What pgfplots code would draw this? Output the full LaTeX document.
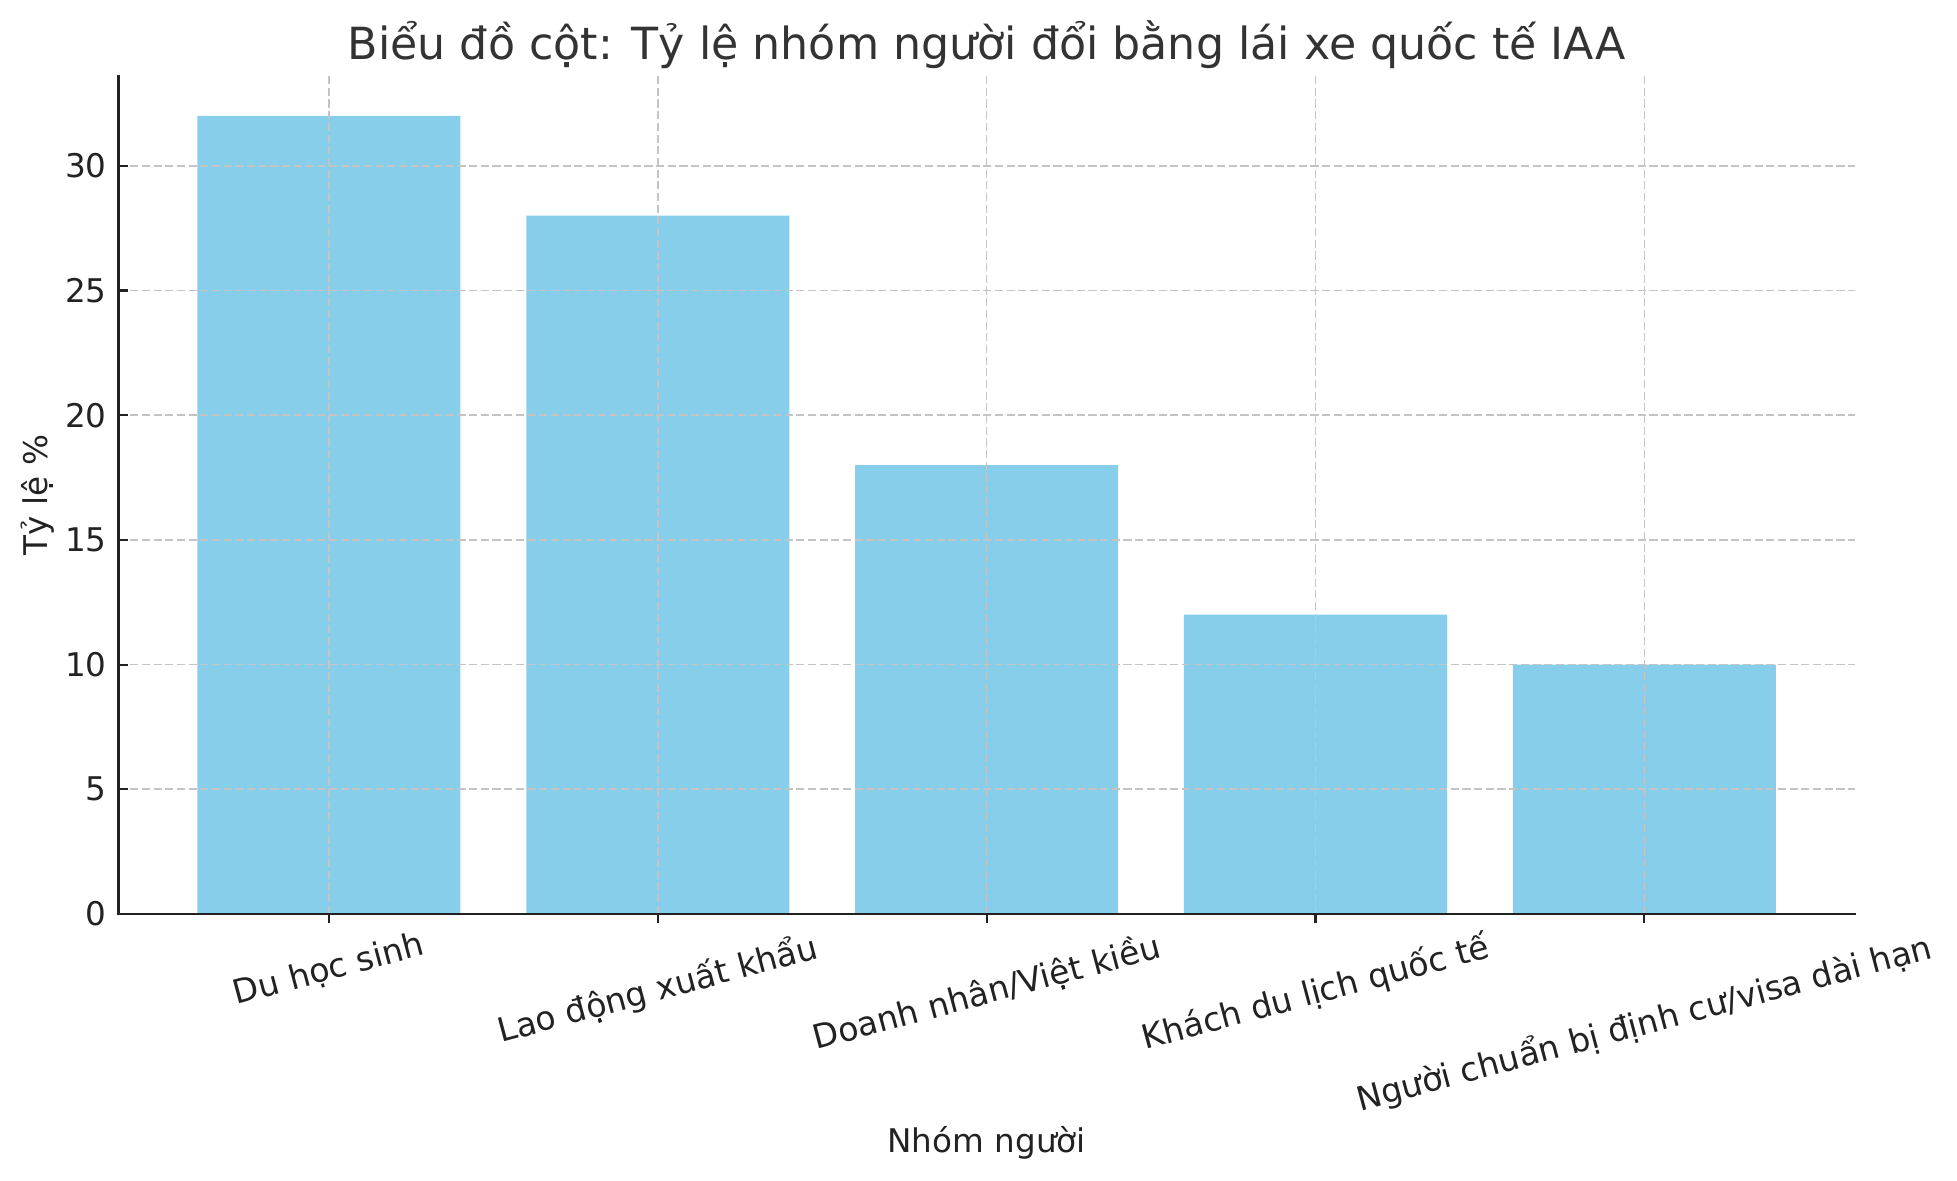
\documentclass[border=0pt]{standalone}
\usepackage{fontspec}
\setmainfont{DejaVu Sans}
\usepackage{graphicx}
\usepackage{pgfplots}
\pgfplotsset{compat=1.18}
\definecolor{skyblue}{HTML}{87CEEB}
\definecolor{gridc}{HTML}{C4C4C4}
\definecolor{titlec}{HTML}{333333}
\definecolor{axc}{HTML}{222222}
\begin{document}
\begin{tikzpicture}
\begin{axis}[
  at={(0pt,0pt)}, anchor=south west,
  scale only axis,
  width=638.9pt, height=308.3pt,
  xmin=-0.64, xmax=4.64,
  ymin=0, ymax=33.6,
  axis line style={draw=none},
  xtick pos=bottom, ytick pos=left,
  tick align=inside,
  major tick length=3.5pt,
  tick style={line width=0.8pt, color=axc},
  xtick={0,1,2,3,4},
  xticklabels={
    {\rotatebox{15}{Du học sinh}},
    {\rotatebox{15}{Lao động xuất khẩu}},
    {\rotatebox{15}{Doanh nhân/Việt kiều}},
    {\rotatebox{15}{Khách du lịch quốc tế}},
    {\rotatebox{15}{Người chuẩn bị định cư/visa dài hạn}}},
  ytick={0,5,10,15,20,25,30},
  /pgf/number format/assume math mode=true,
  xticklabel style={anchor=north, inner sep=0pt, yshift=-2.2pt, font=\fontsize{12.2}{14}\selectfont, text=axc},
  yticklabel style={anchor=east, inner sep=0pt, xshift=-4.2pt, font=\fontsize{12}{14}\selectfont, text=axc},
  grid=major,
  major grid style={gridc, line width=0.6pt, dash pattern=on 3pt off 1.3pt},
  axis on top,
  ybar, bar width=0.8,
  extra description/.code={
    \draw[line width=0.8pt, color=axc, line cap=rect] (rel axis cs:0,1) -- (rel axis cs:0,0) -- (rel axis cs:1,0);
  },
]
\addplot[fill=skyblue, draw=none] coordinates {(0,32) (1,28) (2,18) (3,12) (4,10)};
\end{axis}
\node[anchor=base, inner sep=0pt, text=titlec, font=\fontsize{16.3}{19}\selectfont] at (319.45pt,314.5pt) {Biểu đồ cột: Tỷ lệ nhóm người đổi bằng lái xe quốc tế IAA};
\node[anchor=base, inner sep=0pt, text=axc, font=\fontsize{12}{14}\selectfont] at (319.45pt,-87.9pt) {Nhóm người};
\node[anchor=base, rotate=90, inner sep=0pt, text=axc, font=\fontsize{12}{14}\selectfont] at (-26.3pt,154.15pt) {Tỷ lệ \%};
\pgfresetboundingbox
\path (-43.6pt,-97.9pt) rectangle (676.5pt,336.3pt);
\end{tikzpicture}
\end{document}
